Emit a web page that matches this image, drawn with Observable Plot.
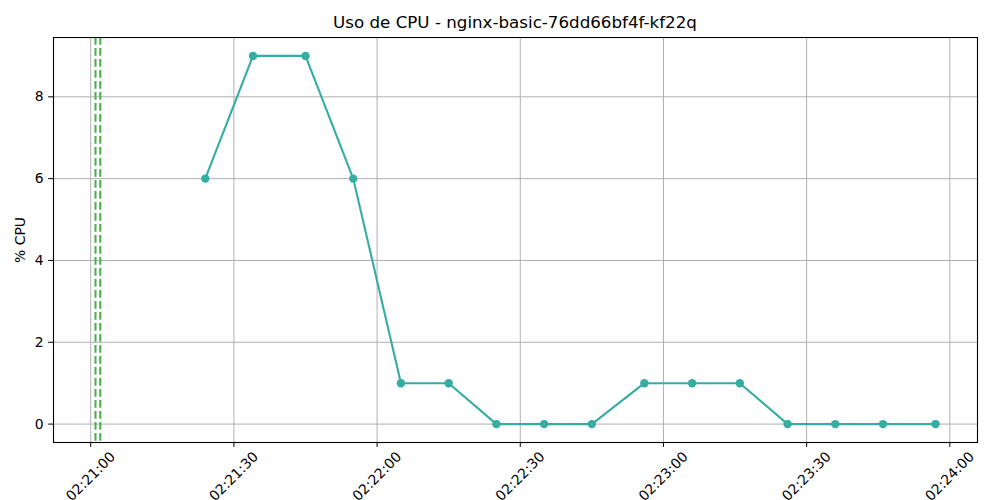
<!DOCTYPE html>
<html>
<head>
<meta charset="utf-8">
<script src="https://cdn.jsdelivr.net/npm/d3@7"></script>
<script src="https://cdn.jsdelivr.net/npm/@observablehq/plot@0.6"></script>
<style>
  html, body { margin: 0; padding: 0; background: #fff; }
  #wrap { width: 1000px; height: 500px; position: relative; font-family: "DejaVu Sans", sans-serif; }
  #title { box-sizing: border-box; height: 37px; padding: 14px 23px 0 53px; text-align: center; font-size: 16.7px; line-height: 17px; color: #000; white-space: nowrap; }
  svg { display: block; }
</style>
</head>
<body>
<div id="wrap">
  <div id="title">Uso de CPU - nginx-basic-76dd66bf4f-kf22q</div>
  <div id="chart"></div>
</div>
<script>
const day = "2024-01-01T";
const times = ["02:21:24","02:21:34","02:21:45","02:21:55","02:22:05","02:22:15","02:22:25","02:22:35","02:22:45","02:22:56","02:23:06","02:23:16","02:23:26","02:23:36","02:23:46","02:23:57"];
const cpu = [6, 9, 9, 6, 1, 1, 0, 0, 0, 1, 1, 1, 0, 0, 0, 0];
const eventTimes = ["02:21:01", "02:21:02"];
const xTickLabels = ["02:21:00","02:21:30","02:22:00","02:22:30","02:23:00","02:23:30","02:24:00"];
const yTicks = [0, 2, 4, 6, 8];

const toDate = t => new Date(day + t + "Z");
const data = times.map((t, i) => ({time: toDate(t), cpu: cpu[i]}));
const events = eventTimes.map(toDate);
const xTicks = xTickLabels.map(t => ({date: toDate(t), label: t}));

// matplotlib-like 5% margins
const allX = data.map(d => +d.time).concat(events.map(Number));
const x0 = d3.min(allX), x1 = d3.max(allX), xm = (x1 - x0) * 0.05;
const y0 = d3.min(cpu), y1 = d3.max(cpu), ym = (y1 - y0) * 0.05;

const teal = "#35ada2";
const green = "#4caf50";

const plot = Plot.plot({
  width: 1000,
  height: 463,
  marginTop: 0,
  marginLeft: 53,
  marginRight: 23,
  marginBottom: 58,
  style: {fontFamily: "DejaVu Sans, sans-serif", fontSize: "13.9px", color: "#000", background: "#fff"},
  x: {type: "utc", domain: [new Date(x0 - xm), new Date(x1 + xm)]},
  y: {domain: [y0 - ym, y1 + ym]},
  marks: [
    Plot.gridX(xTicks.map(d => d.date), {stroke: "#b0b0b0", strokeOpacity: 1, strokeWidth: 1}),
    Plot.gridY(yTicks, {stroke: "#b0b0b0", strokeOpacity: 1, strokeWidth: 1}),
    Plot.axisY({ticks: yTicks, tickSize: 4.9, tickPadding: 4.9, label: null, fontSize: 13.9}),
    Plot.axisX({ticks: xTicks.map(d => d.date), tickSize: 4.9, tickFormat: () => "", label: null}),
    Plot.text(xTicks, {x: "date", text: "label", frameAnchor: "bottom", dy: 34, rotate: -45, textAnchor: "middle", lineAnchor: "middle", fontSize: 13.9, fill: "#000"}),
    Plot.text(["% CPU"], {frameAnchor: "left", dx: -33, rotate: -90, textAnchor: "middle", lineAnchor: "middle", fontSize: 13.9, fill: "#000"}),
    Plot.ruleX(events, {stroke: green, strokeWidth: 2.1, strokeDasharray: "7.7,3.3"}),
    Plot.line(data, {x: "time", y: "cpu", stroke: teal, strokeWidth: 2.1}),
    Plot.dot(data, {x: "time", y: "cpu", fill: teal, r: 4.2, stroke: null}),
    Plot.frame({stroke: "#000", strokeWidth: 1.1})
  ]
});
document.getElementById("chart").appendChild(plot);
</script>
</body>
</html>
